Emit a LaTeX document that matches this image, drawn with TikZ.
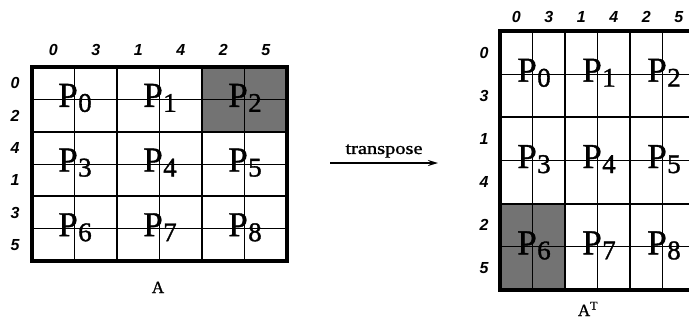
\documentclass[tikz,border=0pt]{standalone}
\usepackage{fontspec}
\setmainfont{Liberation Serif}
\newfontfamily\idxfont{Liberation Sans}
\newfontfamily\procfont[FakeBold=1.2]{Liberation Serif}
\usetikzlibrary{arrows.meta}

% processor label P_k
\newcommand\procP[1]{{\procfont\fontsize{35}{35}\selectfont P}\kern0.5pt{\procfont\fontsize{27}{27}\selectfont\raisebox{-5pt}{#1}}}

\begin{document}
\begin{tikzpicture}[x=1pt,y=-1pt,
  fine/.style={line width=0.8pt},
  blockline/.style={line width=1.8pt},
  frame/.style={line width=3.2pt},
  shade/.style={fill=black!55},
  idx/.style={font=\idxfont\bfseries\itshape\fontsize{16}{16}\selectfont, inner sep=0pt},
  proc/.style={anchor=base, inner sep=0pt},
  caption/.style={anchor=base, inner sep=0pt, font=\procfont\fontsize{17}{17}\selectfont},
]
\useasboundingbox (0,0) rectangle (689,322);
\clip (0,0) rectangle (689,322);

% ---------- matrix A (left) ----------
\fill[shade] (202,67) rectangle (287,131.67);
\foreach \c in {0,1,2}
  \draw[fine] ({74.5+85*\c},67) -- ({74.5+85*\c},261);
\foreach \r in {0,1,2}
  \draw[fine] (32,{99.33+64.67*\r}) -- (287,{99.33+64.67*\r});
\foreach \c in {1,2}
  \draw[blockline] ({32+85*\c},67) -- ({32+85*\c},261);
\foreach \r in {1,2}
  \draw[blockline] (32,{67+64.67*\r}) -- (287,{67+64.67*\r});
\draw[frame] (32,67) rectangle (287,261);

\foreach \r in {0,1,2}
  \foreach \c in {0,1,2} {
    \pgfmathtruncatemacro\k{3*\r+\c}
    \node[proc] (pL\k) at ({75+85*\c},{106.83+64.67*\r}) {\procP{\k}};
  }

\foreach \i/\t in {0/0,1/3,2/1,3/4,4/2,5/5}
  \node[idx] (colL\i) at ({53.25+42.5*\i},50) {\t};
\foreach \i/\t in {0/0,1/2,2/4,3/1,4/3,5/5}
  \node[idx] (rowL\i) at (15,{83.17+32.33*\i}) {\t};

\node[caption] (capA) at (158,293) {A};

% ---------- transpose arrow ----------
\coordinate (arrS) at (330,163);
\coordinate (arrE) at (438,163);
\draw[line width=1.8pt, -{Stealth[length=10pt,width=6pt]}] (arrS) -- (arrE);
\node[inner sep=0pt] (tlabel) at (384,151)
  {\scalebox{1.2}[1]{\procfont\fontsize{17}{17}\selectfont transpose}};

% ---------- matrix A^T (right) ----------
\fill[shade] (500,203.67) rectangle (565,290);
\foreach \c in {0,1,2}
  \draw[fine] ({532.5+65*\c},31) -- ({532.5+65*\c},290);
\foreach \r in {0,1,2}
  \draw[fine] (500,{74.17+86.33*\r}) -- (695,{74.17+86.33*\r});
\foreach \c in {1,2}
  \draw[blockline] ({500+65*\c},31) -- ({500+65*\c},290);
\foreach \r in {1,2}
  \draw[blockline] (500,{31+86.33*\r}) -- (695,{31+86.33*\r});
\draw[frame] (500,31) rectangle (695,290);

\foreach \r in {0,1,2}
  \foreach \c in {0,1,2} {
    \pgfmathtruncatemacro\k{3*\r+\c}
    \node[proc] (pR\k) at ({534+65*\c},{81.67+86.33*\r}) {\procP{\k}};
  }

\foreach \i/\t in {0/0,1/3,2/1,3/4,4/2,5/5}
  \node[idx] (colR\i) at ({516.25+32.5*\i},17) {\t};
\foreach \i/\t in {0/0,1/3,2/1,3/4,4/2,5/5}
  \node[idx] (rowR\i) at (484,{52.58+43.17*\i}) {\t};

\node[caption] (capAT) at (588,316) {A\textsuperscript{\fontsize{12}{12}\selectfont T}};
\end{tikzpicture}
\end{document}
